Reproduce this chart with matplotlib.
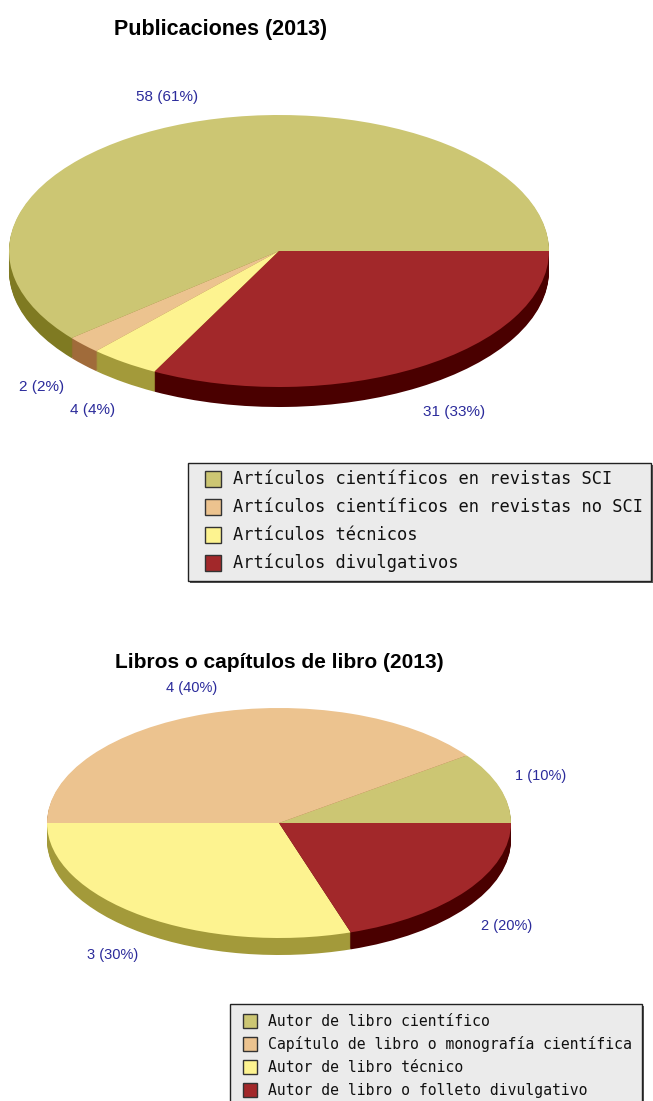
import matplotlib
matplotlib.use('Agg')
from matplotlib import pyplot as plt
from matplotlib.patches import Rectangle
from matplotlib.transforms import Affine2D

# Publicaciones (2013)
pub_labels = ['Artículos científicos en revistas SCI',
              'Artículos científicos en revistas no SCI',
              'Artículos técnicos',
              'Artículos divulgativos']
pub_values = [58, 2, 4, 31]
pub_texts = ['58 (61%)', '2 (2%)', '4 (4%)', '31 (33%)']

# Libros o capítulos de libro (2013)
lib_labels = ['Autor de libro científico',
              'Capítulo de libro o monografía científica',
              'Autor de libro técnico',
              'Autor de libro o folleto divulgativo']
lib_values = [1, 4, 3, 2]
lib_texts = ['1 (10%)', '4 (40%)', '3 (30%)', '2 (20%)']

top_colors = ['#CCC673', '#ECC38F', '#FDF390', '#A2282A']
side_colors = ['#7F7A22', '#A06B3A', '#A39A3A', '#4A0000']

W, H = 653, 1101
fig = plt.figure(figsize=(W / 100, H / 100), dpi=100)
ax = fig.add_axes([0, 0, 1, 1])
LABEL_BLUE = '#2B2B9B'


def pie3d(values, cx, cy, a, b, depth):
    # side walls: stacked copies shifted downward
    for k in range(depth, 0, -1):
        wedges, _ = ax.pie(values, colors=side_colors, startangle=0,
                           counterclock=True, wedgeprops=dict(linewidth=0))
        for w in wedges:
            w.set_transform(Affine2D().scale(a, -b).translate(cx, cy + k) + ax.transData)
    wedges, _ = ax.pie(values, colors=top_colors, startangle=0,
                       counterclock=True, wedgeprops=dict(linewidth=0))
    for w in wedges:
        w.set_transform(Affine2D().scale(a, -b).translate(cx, cy) + ax.transData)


def legend_box(x0, y0, x1, y1, labels, first_row, step, sw, sw_x, txt_x, fsize):
    ax.add_patch(Rectangle((x0 + 2, y0 + 2), x1 - x0, y1 - y0, facecolor='#555555',
                           edgecolor='none', zorder=5))
    ax.add_patch(Rectangle((x0, y0), x1 - x0, y1 - y0, facecolor='#EBEBEB',
                           edgecolor='#222222', linewidth=1, zorder=6))
    for i, lab in enumerate(labels):
        yc = first_row + i * step
        ax.add_patch(Rectangle((sw_x, yc - sw / 2), sw, sw, facecolor=top_colors[i],
                               edgecolor='#333333', linewidth=1, zorder=7))
        ax.text(txt_x, yc, lab, fontsize=fsize, family='DejaVu Sans Mono',
                va='center', ha='left', color='#111111', zorder=7)


# top chart
pie3d(pub_values, 279, 251, 270, 136, 20)
fig.text(221 / W, 1 - 30 / H, 'Publicaciones (2013)', fontsize=15.5,
         fontweight='bold', family='Liberation Sans', ha='center', va='center')
pub_pos = [(167, 97), (42, 387), (93, 410), (454, 412)]
for t, (x, y) in zip(pub_texts, pub_pos):
    ax.text(x, y, t, fontsize=11, family='Liberation Sans', color=LABEL_BLUE,
            ha='center', va='center')
legend_box(188, 463, 651, 581, pub_labels, 479, 28, 16, 205, 233, 12.25)

# bottom chart
pie3d(lib_values, 279, 823, 232, 115, 17)
fig.text(279 / W, 1 - 662 / H, 'Libros o capítulos de libro (2013)', fontsize=15,
         fontweight='bold', family='Liberation Sans', ha='center', va='center')
lib_pos = [(541, 776), (192, 688), (113, 955), (507, 926)]
for t, (x, y) in zip(lib_texts, lib_pos):
    ax.text(x, y, t, fontsize=10.5, family='Liberation Sans', color=LABEL_BLUE,
            ha='center', va='center')
legend_box(230, 1004, 642, 1120, lib_labels, 1021, 23, 14, 243, 268, 10.65)

ax.set_aspect('auto')
ax.set_xlim(0, W)
ax.set_ylim(H, 0)
ax.axis('off')
fig.savefig('out.png', dpi=100)
